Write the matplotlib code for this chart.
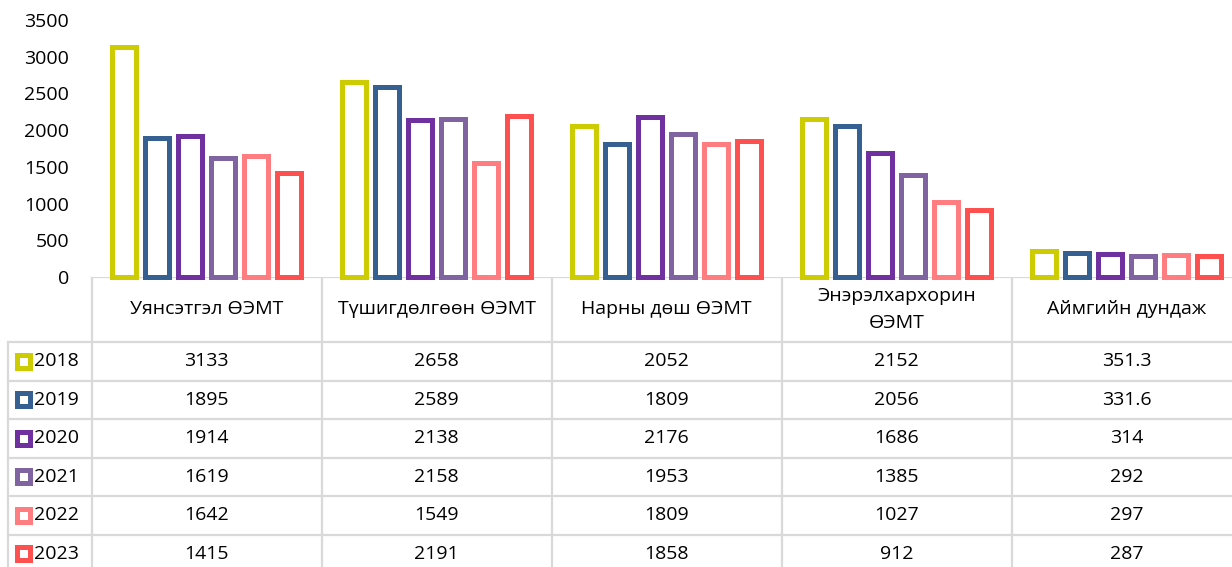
import matplotlib
matplotlib.use("Agg")
import matplotlib.pyplot as plt
from matplotlib.patches import Rectangle
import numpy as np

plt.rcParams['font.family'] = ['Open Sans', 'DejaVu Sans']

categories = ["Уянсэтгэл ӨЭМТ", "Түшигдөлгөөн ӨЭМТ", "Нарны дөш ӨЭМТ",
              "Энэрэлхархорин\nӨЭМТ", "Аймгийн дундаж"]
years = ["2018", "2019", "2020", "2021", "2022", "2023"]
v2018 = [3133, 2658, 2052, 2152, 351.3]
v2019 = [1895, 2589, 1809, 2056, 331.6]
v2020 = [1914, 2138, 2176, 1686, 314]
v2021 = [1619, 2158, 1953, 1385, 292]
v2022 = [1642, 1549, 1809, 1027, 297]
v2023 = [1415, 2191, 1858, 912, 287]
series = [v2018, v2019, v2020, v2021, v2022, v2023]
colors = ["#cccc00", "#376092", "#7030a0", "#8064a2", "#ff7c80", "#ff5050"]
yticks = [0, 500, 1000, 1500, 2000, 2500, 3000, 3500]

W, H = 1232, 567
fig = plt.figure(figsize=(W / 100, H / 100), dpi=100)

left_px, colw = 91.5, 230.0
top_px, base_px = 20.0, 277.0
ax = fig.add_axes([left_px / W, (H - base_px) / H, 5 * colw / W, (base_px - top_px) / H])
x = np.arange(len(categories))
pitch = 0.1435
bw = 0.104
for i, (vals, c) in enumerate(zip(series, colors)):
    ax.bar(x + (i - 2.5) * pitch, vals, width=bw, facecolor="white",
           edgecolor=c, linewidth=3.6, clip_on=False, zorder=3)
ax.set_xlim(-0.5, 4.5)
ax.set_ylim(0, 3500)
ax.set_yticks(yticks)
ax.set_yticklabels([str(t) for t in yticks], fontsize=14)
ax.tick_params(axis='y', length=0, pad=16)
ax.set_xticks([])
for s in ax.spines.values():
    s.set_visible(False)

# table overlay in pixel coordinates
tab = fig.add_axes([0, 0, 1, 1], zorder=-1)
tab.set_xlim(0, W)
tab.set_ylim(H, 0)
tab.axis('off')
gc = "#d9d9d9"
glw = 1.6
hdr_bot = 342.0
rowh = 38.5
ncol = len(categories)
right = left_px + ncol * colw
label_left = 8.0
nrow = len(years)
bottom = hdr_bot + nrow * rowh
# horizontal lines
tab.plot([left_px, right], [base_px, base_px], color=gc, lw=glw)
for r in range(nrow + 1):
    y = hdr_bot + r * rowh
    tab.plot([label_left, right], [y, y], color=gc, lw=glw)
# vertical lines
for k in range(ncol + 1):
    xx = left_px + k * colw
    tab.plot([xx, xx], [base_px, bottom], color=gc, lw=glw)
tab.plot([label_left, label_left], [hdr_bot, bottom], color=gc, lw=glw)

hdr_mid = (base_px + hdr_bot) / 2
for k, name in enumerate(categories):
    tab.text(left_px + (k + 0.5) * colw, hdr_mid, name, ha='center', va='center',
             fontsize=14, linespacing=1.6)

for r, (yr, vals, c) in enumerate(zip(years, series, colors)):
    yc = hdr_bot + (r + 0.5) * rowh
    tab.add_patch(Rectangle((16.5, yc - 6.5), 13, 13, facecolor='white', edgecolor=c, lw=3.6))
    tab.text(34, yc, yr, ha='left', va='center', fontsize=14)
    for k, v in enumerate(vals):
        tab.text(left_px + (k + 0.5) * colw, yc, f"{v:g}", ha='center', va='center', fontsize=14)

fig.savefig("out.png", dpi=100)
